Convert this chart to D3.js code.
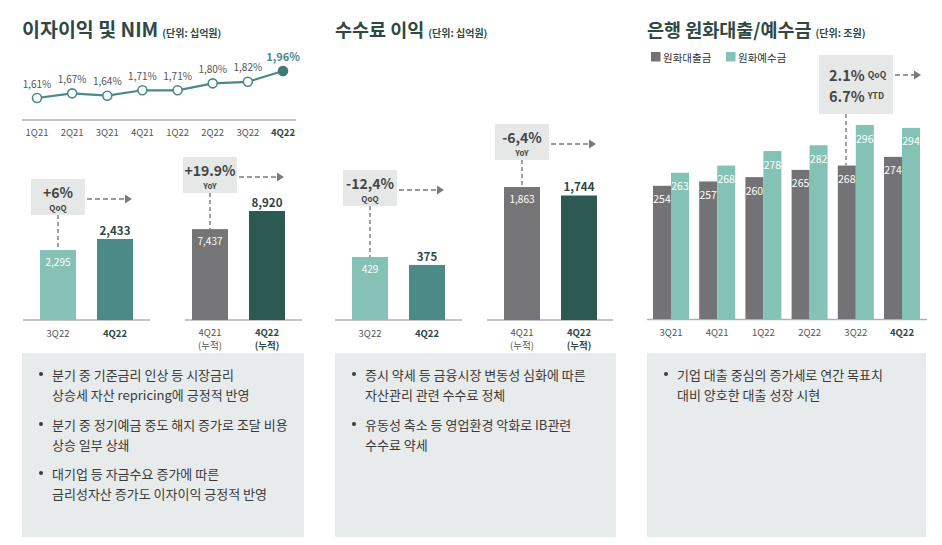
<!DOCTYPE html>
<html><head><meta charset="utf-8">
<script src="https://cdn.jsdelivr.net/npm/d3@7"></script>
<style>
html,body{margin:0;padding:0;background:#fff;}
svg{display:block;font-family:"Noto Sans CJK KR","Noto Sans",sans-serif;}
</style></head>
<body>
<svg id="c" width="942" height="545"></svg>
<script>
// ---------- DATA ----------
const nimQuarters = ["1Q21","2Q21","3Q21","4Q21","1Q22","2Q22","3Q22","4Q22"];
const nimValues = [1.61,1.67,1.64,1.71,1.71,1.80,1.82,1.96];

const niiQCats = ["3Q22","4Q22"];
const niiQValues = [2295,2433];
const niiCumCats = ["4Q21","4Q22"];
const niiCumValues = [7437,8920];

const feeQCats = ["3Q22","4Q22"];
const feeQValues = [429,375];
const feeCumCats = ["4Q21","4Q22"];
const feeCumValues = [1863,1744];

const loanQuarters = ["3Q21","4Q21","1Q22","2Q22","3Q22","4Q22"];
const loanValues = [254,257,260,265,268,274];
const depositValues = [263,268,278,282,296,294];
const legendLabels = ["원화대출금","원화예수금"];

const notes1 = [["분기 중 기준금리 인상 등 시장금리","상승세 자산 repricing에 긍정적 반영"],
                ["분기 중 정기예금 중도 해지 증가로 조달 비용","상승 일부 상쇄"],
                ["대기업 등 자금수요 증가에 따른","금리성자산 증가도 이자이익 긍정적 반영"]];
const notes2 = [["증시 약세 등 금융시장 변동성 심화에 따른","자산관리 관련 수수료 정체"],
                ["유동성 축소 등 영업환경 악화로 IB관련","수수료 약세"]];
const notes3 = [["기업 대출 중심의 증가세로 연간 목표치","대비 양호한 대출 성장 시현"]];

// ---------- STYLE ----------
const C = {
  title:"#2e4843", light:"#86c1b5", mid:"#4b8a86", gray:"#757477", dark:"#2c5a52",
  loan:"#737275", dep:"#84c2b5", axis:"#b0b0b0", lbl:"#555", val:"#2d4743",
  box:"#e6e8e8", boxTxt:"#454545", arrow:"#7a7a7a", note:"#e8ebeb", noteTxt:"#3a3a3a"
};
const svg = d3.select("#c");
const fmt = d3.format(",");

// ---------- TITLES ----------
function title(x, main, unit, size){
  const t = svg.append("text").attr("x",x).attr("y",37).attr("fill",C.title)
    .attr("font-weight",700).attr("font-size",size);
  t.append("tspan").text(main);
  t.append("tspan").attr("font-size",10).attr("dx",4).text(unit);
}
title(22,"이자이익 및 NIM","(단위: 십억원)",19.5);
title(335,"수수료 이익","(단위: 십억원)",18.5);
title(647,"은행 원화대출/예수금","(단위: 조원)",18.5);

// ---------- NIM line ----------
const xN = d3.scalePoint().domain(nimQuarters).range([37,283]);
const yN = d3.scaleLinear().domain([1.61,1.96]).range([98,71]);
svg.append("line").attr("x1",22).attr("x2",296).attr("y1",120).attr("y2",120)
  .attr("stroke",C.axis).attr("stroke-width",1.5);
svg.append("path").datum(nimValues.map((v,i)=>[nimQuarters[i],v]))
  .attr("d",d3.line().x(d=>xN(d[0])).y(d=>yN(d[1])))
  .attr("fill","none").attr("stroke",C.mid).attr("stroke-width",2.2);
nimValues.forEach((v,i)=>{
  const last = i===nimValues.length-1;
  svg.append("circle").attr("cx",xN(nimQuarters[i])).attr("cy",yN(v)).attr("r",4.5)
    .attr("fill",last?"#3f7a72":"#fff").attr("stroke",last?"#3f7a72":C.mid).attr("stroke-width",1.6);
  svg.append("text").attr("x",xN(nimQuarters[i])).attr("y",yN(v)-15)
    .attr("text-anchor","middle").attr("dominant-baseline","central")
    .attr("font-size",last?11:10).attr("font-weight",last?700:400)
    .attr("fill",last?C.mid:C.lbl).text(v.toFixed(2).replace(".",",")+"%");
  svg.append("text").attr("x",xN(nimQuarters[i])).attr("y",132)
    .attr("text-anchor","middle").attr("dominant-baseline","central")
    .attr("font-size",9.5).attr("font-weight",last?700:400)
    .attr("fill",last?C.val:C.lbl).text(nimQuarters[i]);
});

// ---------- helpers ----------
function arrow(x1,x2,y){
  svg.append("line").attr("x1",x1).attr("x2",x2-6).attr("y1",y).attr("y2",y)
    .attr("stroke",C.arrow).attr("stroke-width",1.6).attr("stroke-dasharray","5,3");
  svg.append("path").attr("d",`M${x2-7},${y-4.5}L${x2},${y}L${x2-7},${y+4.5}Z`).attr("fill",C.arrow);
}
function vdash(x,y1,y2){
  svg.append("line").attr("x1",x).attr("x2",x).attr("y1",y1).attr("y2",y2)
    .attr("stroke",C.arrow).attr("stroke-width",1.4).attr("stroke-dasharray","4,3");
}
function pairChart(o){
  const x = d3.scalePoint().domain(o.cats).range(o.xr);
  const y = d3.scaleLinear().domain(o.dom).range([320,o.topY]);
  const bw = 36;
  svg.append("line").attr("x1",o.ax[0]).attr("x2",o.ax[1]).attr("y1",320).attr("y2",320)
    .attr("stroke",C.axis).attr("stroke-width",1.5);
  o.values.forEach((v,i)=>{
    const cx = x(o.cats[i]);
    svg.append("rect").attr("x",cx-bw/2).attr("y",y(v)).attr("width",bw).attr("height",320-y(v))
      .attr("fill",o.colors[i]);
    if(i===0){
      svg.append("text").attr("x",cx).attr("y",y(v)+11).attr("text-anchor","middle")
        .attr("dominant-baseline","central").attr("font-size",10).attr("fill","#fff").text(fmt(v));
    } else {
      svg.append("text").attr("x",cx).attr("y",y(v)-9).attr("text-anchor","middle")
        .attr("dominant-baseline","central").attr("font-size",11.5).attr("font-weight",700)
        .attr("fill",C.val).text(fmt(v));
    }
    svg.append("text").attr("x",cx).attr("y",o.cum?331.5:333).attr("text-anchor","middle")
      .attr("dominant-baseline","central").attr("font-size",9.5)
      .attr("font-weight",i===1?700:400).attr("fill",i===1?C.val:C.lbl).text(o.cats[i]);
    if(o.cum){
      svg.append("text").attr("x",cx).attr("y",345).attr("text-anchor","middle")
        .attr("dominant-baseline","central").attr("font-size",9.5)
        .attr("font-weight",i===1?700:400).attr("fill",i===1?C.val:C.lbl).text("(누적)");
    }
  });
  // annotation box
  const c0 = x(o.cats[0]), bx = c0-27, by = o.boxY, bwid=54, bh=36;
  svg.append("rect").attr("x",bx).attr("y",by).attr("width",bwid).attr("height",bh).attr("fill",C.box);
  svg.append("text").attr("x",c0).attr("y",by+12.5).attr("text-anchor","middle")
    .attr("dominant-baseline","central").attr("font-size",14).attr("font-weight",700)
    .attr("fill",C.boxTxt).text(o.pct);
  svg.append("text").attr("x",c0).attr("y",by+28).attr("text-anchor","middle")
    .attr("dominant-baseline","central").attr("font-size",8).attr("font-weight",700)
    .attr("fill",C.boxTxt).text(o.tag);
  vdash(c0,by+bh,y(o.values[0]));
  arrow(bx+bwid+2, x(o.cats[1])+17, by+20);
}

pairChart({cats:niiQCats, values:niiQValues, xr:[58,115], dom:[1417,2433], topY:239,
  ax:[23,150], colors:[C.light,C.mid], boxY:179, pct:"+6%", tag:"QoQ", cum:false});
pairChart({cats:niiCumCats, values:niiCumValues, xr:[210,267], dom:[0,8920], topY:211,
  ax:[185,302], colors:[C.gray,C.dark], boxY:157, pct:"+19.9%", tag:"YoY", cum:true});
pairChart({cats:feeQCats, values:feeQValues, xr:[370,427], dom:[0,429], topY:257,
  ax:[335,462], colors:[C.light,C.mid], boxY:170, pct:"-12,4%", tag:"QoQ", cum:false});
pairChart({cats:feeCumCats, values:feeCumValues, xr:[522,579], dom:[0,1863], topY:187,
  ax:[487,613], colors:[C.gray,C.dark], boxY:124, pct:"-6,4%", tag:"YoY", cum:true});

// ---------- loans / deposits ----------
const xL = d3.scalePoint().domain(loanQuarters).range([671,902]);
const yL = d3.scaleLinear().domain([162,296]).range([319,125]);
const lbw = 18;
// legend
[[651,C.loan],[726,C.dep]].forEach((p,i)=>{
  svg.append("rect").attr("x",p[0]).attr("y",52).attr("width",9.5).attr("height",9.5).attr("fill",p[1]);
  svg.append("text").attr("x",p[0]+12).attr("y",57).attr("dominant-baseline","central")
    .attr("font-size",10.5).attr("fill","#333").text(legendLabels[i]);
});
svg.append("line").attr("x1",647).attr("x2",927).attr("y1",319.5).attr("y2",319.5)
  .attr("stroke",C.axis).attr("stroke-width",1.5);
loanQuarters.forEach((q,i)=>{
  const cx = xL(q);
  [[loanValues[i],cx-lbw,C.loan],[depositValues[i],cx,C.dep]].forEach(b=>{
    svg.append("rect").attr("x",b[1]).attr("y",yL(b[0])).attr("width",lbw).attr("height",319-yL(b[0]))
      .attr("fill",b[2]);
    svg.append("text").attr("x",b[1]+lbw/2).attr("y",yL(b[0])+13).attr("text-anchor","middle")
      .attr("dominant-baseline","central").attr("font-size",10.5).attr("fill","#fff").text(b[0]);
  });
  const last = i===loanQuarters.length-1;
  svg.append("text").attr("x",cx).attr("y",332).attr("text-anchor","middle")
    .attr("dominant-baseline","central").attr("font-size",9.5)
    .attr("font-weight",last?700:400).attr("fill",last?C.val:C.lbl).text(q);
});
// box
svg.append("rect").attr("x",819).attr("y",55).attr("width",74).attr("height",59).attr("fill",C.box);
[["2.1%","QoQ",74],["6.7%","YTD",95]].forEach(r=>{
  const t = svg.append("text").attr("x",829).attr("y",r[2]).attr("dominant-baseline","central")
    .attr("fill",C.boxTxt).attr("font-weight",700);
  t.append("tspan").attr("font-size",14.5).text(r[0]);
  t.append("tspan").attr("font-size",8.5).attr("dx",3).text(r[1]);
});
vdash(846,114,yL(loanValues[4]));
arrow(895,921,75);

// ---------- note boxes ----------
function notes(x,w,items){
  svg.append("rect").attr("x",x).attr("y",353).attr("width",w).attr("height",184).attr("fill",C.note);
  const ys = [[374,394],[424,444],[473,493]];
  items.forEach((lines,i)=>{
    svg.append("circle").attr("cx",x+19).attr("cy",ys[i][0]).attr("r",2).attr("fill",C.noteTxt);
    lines.forEach((ln,j)=>{
      svg.append("text").attr("x",x+30).attr("y",ys[i][j]).attr("dominant-baseline","central")
        .attr("font-size",13).attr("fill",C.noteTxt).text(ln);
    });
  });
}
notes(22,282,notes1);
notes(335,281,notes2);
notes(647,279,notes3);
</script>
</body></html>
